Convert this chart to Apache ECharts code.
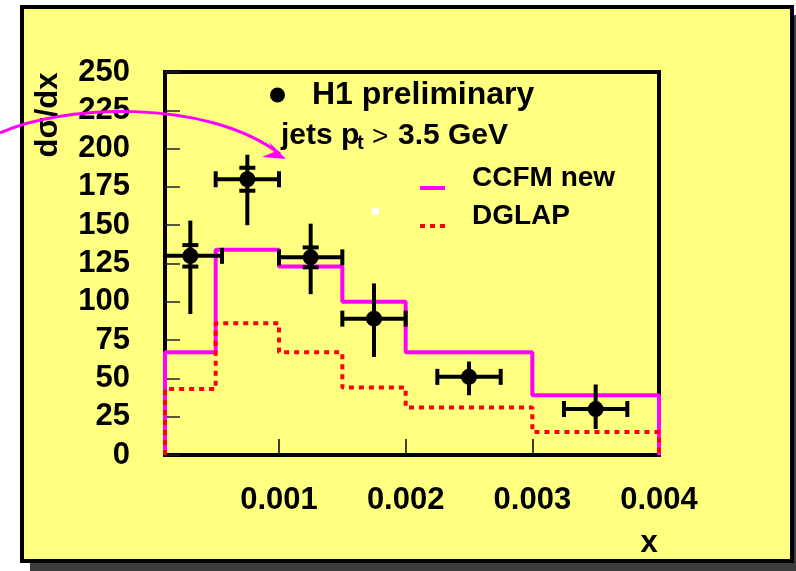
<!DOCTYPE html>
<html>
<head>
<meta charset="utf-8">
<script src="https://cdn.jsdelivr.net/npm/echarts@6/dist/echarts.min.js"></script>
<style>
  html, body { margin: 0; padding: 0; background: #fff; }
  #chart { width: 796px; height: 571px; }
</style>
</head>
<body>
<div id="chart"></div>
<script>
// histogram bins (x) and model predictions
const binEdges = [0.0001, 0.0005, 0.001, 0.0015, 0.002, 0.003, 0.004]
const ccfmNew = [67, 134, 123, 100, 67, 39]
const dglap = [43, 86, 67, 44, 31, 15]

// H1 data points
const dataX = [0.0003, 0.00075, 0.00125, 0.00175, 0.0025, 0.0035]
const dataY = [130, 180, 129, 89, 51, 30]
const xErr = [0.00025, 0.00025, 0.00025, 0.00025, 0.00025, 0.00025]
const yErrUp = [23, 16, 22, 23, 10, 16]
const yErrDown = [38, 30, 24, 25, 12, 13]
const statErr = [7, 7.5, 6.5, null, null, null]

const xTicks = [0.001, 0.002, 0.003, 0.004]
const yMin = 0, yMax = 250, yStep = 25

const FONT = "'Liberation Sans', Arial, Helvetica, sans-serif"
const YELLOW = '#ffff80'

// step outline of a histogram, closed down to zero at both ends
function stepLine(edges, vals) {
  const pts = [[edges[0], 0]]
  vals.forEach((v, i) => {
    pts.push([edges[i], v])
    pts.push([edges[i + 1], v])
  })
  pts.push([edges[edges.length - 1], 0])
  return pts
}

const errData = dataX.map((x, i) => [x, dataY[i], xErr[i], yErrUp[i], yErrDown[i], statErr[i] == null ? '-' : statErr[i]])

const chart = echarts.init(document.getElementById('chart'))

// legend entries for the two curves: line only, sitting a bit below the text
const lineLegend = (name, top) => ({
  data: [name],
  left: 418, top: top, padding: 0,
  itemWidth: 25, itemHeight: 14, selectedMode: false,
  itemStyle: { opacity: 0 },
  lineStyle: { width: 4 },
  formatter: n => '{t|' + n + '}',
  textStyle: {
    rich: { t: { fontSize: 28, fontWeight: 'bold', color: '#000', fontFamily: FONT, padding: [0, 0, 20, 22] } }
  }
})

chart.setOption({
  backgroundColor: '#fff',
  animation: false,
  textStyle: { fontFamily: FONT },
  grid: {
    left: 165, top: 72, right: 137, bottom: 116,
    show: true, borderColor: '#000', borderWidth: 4,
    backgroundColor: 'transparent'
  },
  xAxis: {
    type: 'value', min: binEdges[0], max: 0.004,
    axisLine: { show: false },
    splitLine: { show: false },
    axisTick: { show: true, inside: true, length: 16, customValues: xTicks.slice(0, 3), lineStyle: { color: '#000', width: 1.5 } },
    axisLabel: {
      customValues: xTicks, margin: 30,
      formatter: v => v.toFixed(3),
      color: '#000', fontSize: 31, fontWeight: 'bold', fontFamily: FONT
    }
  },
  yAxis: {
    type: 'value', min: yMin, max: yMax, interval: yStep,
    axisLine: { show: false },
    splitLine: { show: false },
    axisTick: { show: true, inside: true, length: 15, lineStyle: { color: '#222', width: 1.5 } },
    axisLabel: { margin: 35, color: '#000', fontSize: 31, fontWeight: 'bold', fontFamily: FONT }
  },
  legend: [
    {
      data: [{ name: 'H1 preliminary', icon: 'circle' }],
      left: 270, top: 79, padding: 0,
      itemWidth: 15, itemHeight: 15, selectedMode: false,
      itemStyle: { opacity: 1 },
      textStyle: { fontSize: 32, fontWeight: 'bold', color: '#000', fontFamily: FONT, padding: [0, 0, 0, 22] }
    },
    lineLegend('CCFM new', 164),
    lineLegend('DGLAP', 202)
  ],
  graphic: [
    // page frame with drop shadow
    { type: 'rect', z: -10, shape: { x: 30, y: 15, width: 770, height: 556 }, style: { fill: '#3c3c3c' } },
    { type: 'rect', z: -9, shape: { x: 22, y: 7, width: 770, height: 554 }, style: { fill: YELLOW, stroke: '#000', lineWidth: 4 } },
    { type: 'rect', z: 5, shape: { x: 372, y: 208, width: 7, height: 7 }, style: { fill: '#fff' } },
    // axis titles
    {
      type: 'text', z: 5, x: 48, y: 115, rotation: Math.PI / 2,
      style: { text: 'dσ/dx', font: 'bold 31px ' + FONT, fill: '#000', align: 'center', verticalAlign: 'middle' }
    },
    {
      type: 'text', z: 5, x: 649, y: 543,
      style: { text: 'x', font: 'bold 31px ' + FONT, fill: '#000', align: 'center', verticalAlign: 'middle' }
    },
    // "jets p_t > 3.5 GeV"
    { type: 'text', z: 5, x: 281, y: 136, style: { text: 'jets p', font: 'bold 30px ' + FONT, fill: '#000', align: 'left', verticalAlign: 'middle' } },
    { type: 'text', z: 5, x: 357, y: 143, style: { text: 't', font: 'bold 20px ' + FONT, fill: '#000', align: 'left', verticalAlign: 'middle' } },
    { type: 'text', z: 5, x: 372, y: 137, style: { text: '>', font: '28px ' + FONT, fill: '#000', align: 'left', verticalAlign: 'middle' } },
    { type: 'text', z: 5, x: 398, y: 136, style: { text: '3.5 GeV', font: 'bold 30px ' + FONT, fill: '#000', align: 'left', verticalAlign: 'middle' } },
    // curved arrow
    {
      type: 'bezierCurve', z: 20,
      shape: { x1: 0, y1: 133, cpx1: 60, cpy1: 105, cpx2: 205, cpy2: 97, x2: 280, y2: 154 },
      style: { stroke: '#ff00ff', lineWidth: 3, fill: null }
    },
    {
      type: 'polygon', z: 20,
      shape: { points: [[286, 159], [269, 142], [274, 152], [262, 157]] },
      style: { fill: '#ff00ff' }
    }
  ],
  series: [
    {
      name: 'CCFM new', type: 'line', z: 3, clip: false,
      data: stepLine(binEdges, ccfmNew), symbol: 'none',
      itemStyle: { color: '#ff00ff' },
      lineStyle: { color: '#ff00ff', width: 4 }
    },
    {
      name: 'DGLAP', type: 'line', z: 4, clip: false,
      data: stepLine(binEdges, dglap), symbol: 'none',
      itemStyle: { color: '#ff0000' },
      lineStyle: { color: '#ff0000', width: 4, type: [5, 5] }
    },
    {
      name: 'errors', type: 'custom', z: 6, clip: true,
      data: errData,
      renderItem: function (params, api) {
        const x = api.value(0), y = api.value(1)
        const l = api.coord([x - api.value(2), y])
        const r = api.coord([x + api.value(2), y])
        const t = api.coord([x, y + api.value(3)])
        const b = api.coord([x, y - api.value(4)])
        const st = { stroke: '#000', lineWidth: 4 }
        const kids = [
          { type: 'line', shape: { x1: l[0], y1: l[1], x2: r[0], y2: r[1] }, style: st },
          { type: 'line', shape: { x1: l[0], y1: l[1] - 8, x2: l[0], y2: l[1] + 8 }, style: st },
          { type: 'line', shape: { x1: r[0], y1: r[1] - 8, x2: r[0], y2: r[1] + 8 }, style: st },
          { type: 'line', shape: { x1: t[0], y1: t[1], x2: b[0], y2: b[1] }, style: st }
        ]
        const s = api.value(5)
        if (!isNaN(s)) {
          const su = api.coord([x, y + s])
          const sd = api.coord([x, y - s])
          kids.push({ type: 'line', shape: { x1: su[0] - 8, y1: su[1], x2: su[0] + 8, y2: su[1] }, style: st })
          kids.push({ type: 'line', shape: { x1: sd[0] - 8, y1: sd[1], x2: sd[0] + 8, y2: sd[1] }, style: st })
        }
        return { type: 'group', children: kids }
      }
    },
    {
      name: 'H1 preliminary', type: 'scatter', z: 7,
      data: dataX.map((x, i) => [x, dataY[i]]),
      symbol: 'circle', symbolSize: 16,
      itemStyle: { color: '#000', opacity: 1 }
    }
  ]
})
</script>
</body>
</html>
